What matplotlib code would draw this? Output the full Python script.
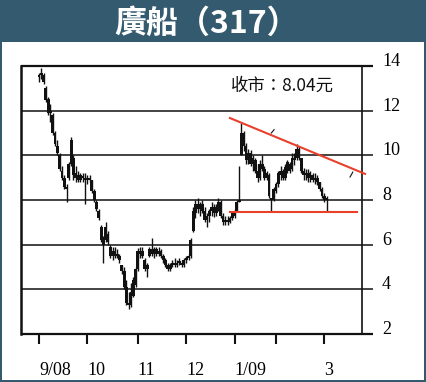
import matplotlib
matplotlib.use('Agg')
import matplotlib.pyplot as plt
from matplotlib.patches import Rectangle

# ---- data ----
opens = [13.5, 13.6, 13.6, 13.0, 12.5, 11.9, 11.8, 11.0, 10.4, 10.0, 9.3, 9.0, 8.6, 9.0, 9.6, 9.9, 9.0, 9.1, 8.9, 9.0, 9.0,
         8.9, 9.0, 8.9, 8.4, 7.9, 7.5, 6.8, 6.3, 6.2, 6.5, 5.9, 5.5, 5.7, 5.5, 5.5, 5.1, 4.8, 4.1, 3.4, 3.3, 3.7, 4.2,
         4.9, 5.6, 5.7, 5.3, 4.9, 5.5, 5.8, 5.6, 5.8, 5.6, 5.7, 5.5, 5.3, 5.1, 4.9, 5.1, 5.2, 5.1, 5.2, 5.2, 5.1,
         5.3, 5.4, 5.5, 6.6, 7.4, 7.8, 7.6, 7.8, 7.5, 7.1, 7.3, 7.5, 7.7, 7.4, 7.7, 7.9, 7.3, 7.0, 7.1, 7.0, 7.2,
         7.3, 7.5, 7.9, 10.0, 11.0, 10.4, 9.8, 10.1, 9.6, 9.8, 9.3, 9.0, 9.6, 9.4, 9.0, 9.1, 8.1, 8.0,
         8.4, 8.7, 9.1, 9.3, 9.0, 9.5, 9.6, 9.4, 9.9, 9.9, 10.3, 9.9, 9.3, 9.1, 9.2, 9.0, 9.1, 8.9, 9.0, 8.8, 8.5,
         8.2, 8.0]
highs = [13.7, 13.9, 13.7, 13.1, 12.6, 12.3, 11.9, 11.1, 10.7, 10.1, 9.5, 9.1, 8.7, 9.7, 10.8, 10.0, 9.5, 9.3, 9.2, 9.2, 9.2,
         9.1, 9.1, 8.9, 8.5, 8.0, 7.6, 6.9, 6.4, 7.0, 6.6, 6.0, 5.9, 5.9, 5.8, 5.6, 5.1, 5.0, 4.4, 3.9, 4.3, 4.55, 5.0,
         5.85, 5.9, 5.9, 5.4, 5.2, 5.9, 6.3, 5.9, 5.9, 5.9, 5.8, 5.6, 5.4, 5.2, 5.2, 5.3, 5.4, 5.3, 5.4, 5.3, 5.4,
         5.5, 5.6, 6.3, 7.7, 8.0, 8.1, 7.9, 8.0, 7.7, 7.4, 7.6, 7.9, 7.8, 7.8, 8.1, 8.0, 7.4, 7.3, 7.3, 7.3, 7.5,
         7.6, 8.0, 9.5, 11.45, 11.1, 10.55, 10.3, 10.25, 10.0, 9.9, 9.6, 9.8, 10.0, 9.5, 9.3, 9.2, 8.1, 8.6,
         8.8, 9.3, 9.5, 9.4, 9.6, 9.8, 9.7, 10.1, 10.1, 10.5, 10.4, 9.9, 9.45, 9.4, 9.4, 9.3, 9.2, 9.2, 9.1, 8.8, 8.6,
         8.3, 8.2]
lows = [13.3, 13.4, 13.2, 12.4, 11.8, 11.5, 10.9, 10.4, 10.0, 9.3, 8.9, 8.5, 7.9, 8.9, 9.5, 8.9, 8.8, 8.8, 8.8, 8.8, 7.8,
        8.7, 8.8, 8.3, 7.9, 7.5, 7.1, 6.1, 5.2, 6.1, 6.0, 5.4, 5.3, 5.4, 5.4, 5.2, 4.7, 4.0, 3.3, 3.1, 3.2, 3.65, 4.1,
        4.8, 5.4, 5.4, 4.8, 4.55, 5.45, 5.5, 5.4, 5.5, 5.5, 5.4, 5.2, 5.0, 4.8, 4.8, 5.0, 5.0, 5.0, 5.1, 5.0, 5.0,
        5.2, 5.3, 5.4, 6.55, 7.2, 7.4, 7.3, 7.4, 7.0, 6.8, 7.0, 7.3, 7.25, 7.3, 7.5, 7.2, 6.9, 6.9, 6.9, 6.95, 7.1,
        7.2, 7.5, 7.9, 10.0, 10.2, 9.6, 9.6, 9.5, 9.3, 9.2, 8.8, 8.9, 9.3, 8.9, 8.9, 8.1, 7.45, 7.95,
        8.3, 8.6, 8.9, 8.9, 8.9, 9.2, 9.2, 9.3, 9.55, 9.8, 9.8, 9.2, 8.9, 8.9, 8.8, 8.8, 8.8, 8.7, 8.65, 8.4, 8.1,
        7.9, 7.5]
closes = [13.6, 13.7, 13.3, 12.5, 11.9, 12.0, 11.0, 10.5, 10.1, 9.4, 9.0, 8.6, 8.5, 9.6, 10.7, 9.1, 9.2, 8.9, 9.1, 9.0, 8.9,
          9.0, 8.9, 8.4, 8.0, 7.6, 7.2, 6.2, 6.0, 6.8, 6.1, 5.5, 5.7, 5.5, 5.6, 5.3, 4.8, 4.1, 3.4, 3.3, 3.9, 4.4, 4.9,
          5.7, 5.7, 5.5, 4.9, 5.1, 5.8, 5.6, 5.8, 5.6, 5.7, 5.5, 5.3, 5.1, 4.9, 5.1, 5.2, 5.1, 5.2, 5.2, 5.1, 5.3,
          5.4, 5.5, 6.2, 7.5, 7.8, 7.6, 7.8, 7.5, 7.1, 7.3, 7.5, 7.7, 7.4, 7.7, 7.9, 7.3, 7.0, 7.1, 7.0, 7.2, 7.4,
          7.5, 7.9, 8.0, 11.0, 10.4, 9.8, 10.1, 9.6, 9.9, 9.3, 9.0, 9.6, 9.4, 9.0, 9.2, 8.2, 8.0, 8.5,
          8.7, 9.2, 9.3, 9.0, 9.5, 9.7, 9.3, 9.9, 9.8, 10.3, 9.9, 9.3, 9.1, 9.2, 9.0, 9.1, 8.9, 9.0, 8.8, 8.5, 8.2,
          8.0, 8.04]

month_ticks = [0, 21, 43, 64, 85, 103, 124]
month_labels = ['9/08', '10', '11', '12', '1/09', '', '3']
price_ticks = [2, 4, 6, 8, 10, 12, 14]
resist_x = [83.0, 141.7]
resist_y = [11.67, 9.17]
support_x = [83.0, 138.3]
support_y = [7.46, 7.46]
title_text = '廣船（317）'
close_text = '收市：8.04元'

BAR = '#335a6f'
RED = '#e8402a'
INK = '#111111'
W, H = 427, 382

fig = plt.figure(figsize=(W / 100, H / 100), dpi=100)
fig.patch.set_facecolor('white')

def frect(x0, y0, w, h):
    fig.patches.append(Rectangle((x0 / W, 1 - (y0 + h) / H), w / W, h / H,
                                 transform=fig.transFigure, facecolor=BAR,
                                 edgecolor='none', zorder=0))

frect(0, 0, W, 42)      # title bar
frect(0, 0, 2, H)       # left border
frect(W - 3, 0, 3, H)   # right border
frect(0, H - 2, W, 2)   # bottom border

fig.text(206.5 / W, 1 - 24 / H, title_text, color='white', fontsize=23,
         fontweight='bold', ha='center', va='center',
         family=['Noto Sans CJK TC', 'DejaVu Sans'])

ax = fig.add_axes([21 / W, 1 - 334 / H, 341 / W, 268 / H])
ax.set_xlim(-7.8, 140.4)
ax.set_ylim(2, 14)

# candles
n = len(closes)
for i in range(n):
    o, hi, lo, c = opens[i], highs[i], lows[i], closes[i]
    ax.vlines(i, lo, hi, color=INK, lw=1.0, zorder=3)
    b = min(o, c)
    h = max(abs(c - o), 0.08)
    ax.bar(i, h, bottom=b, width=1.25, color=INK, edgecolor='none', zorder=3)

# horizontal grid lines extending past the right spine
for y in price_ticks:
    lw = 1.6 if y in (2, 14) else 1.1
    ax.plot([0, 1.032], [y, y], transform=ax.get_yaxis_transform(),
            color=INK, lw=lw, clip_on=False, zorder=2, solid_capstyle='butt')

# trend lines
ax.plot(resist_x, resist_y, color=RED, lw=1.5, clip_on=False, zorder=4)
ax.plot(support_x, support_y, color=RED, lw=1.5, clip_on=False, zorder=4)
# small marks
ax.plot([101.0, 102.2], [11.0, 11.15], color=INK, lw=0.8, zorder=4)
ax.plot([135.2, 136.4], [9.03, 9.25], color=INK, lw=0.8, zorder=4)

ax.text(0.768, 0.925, close_text, transform=ax.transAxes, fontsize=12.5,
        ha='center', va='center', color=INK,
        family=['Noto Sans CJK TC', 'DejaVu Sans'])

for s in ['top', 'bottom']:
    ax.spines[s].set_visible(False)
ax.spines['left'].set_linewidth(1.8)
ax.spines['right'].set_linewidth(1.2)
ax.spines['left'].set_color(INK)
ax.spines['right'].set_color(INK)

ax.yaxis.tick_right()
ax.set_yticks(price_ticks)
ax.set_yticklabels([str(v) for v in price_ticks], family='Liberation Serif', fontsize=13)
ax.tick_params(axis='y', length=0, pad=14.4, labelright=True, labelleft=False)
for lbl in ax.get_yticklabels():
    lbl.set_va('baseline')

ax.set_xticks(month_ticks)
ax.set_xticklabels(month_labels, family='Liberation Serif', fontsize=13)
ax.tick_params(axis='x', direction='out', length=7, width=1.5, pad=13, color=INK)
for lbl in ax.get_xticklabels():
    lbl.set_ha('left')

fig.savefig('out.png', dpi=100, facecolor='white')
